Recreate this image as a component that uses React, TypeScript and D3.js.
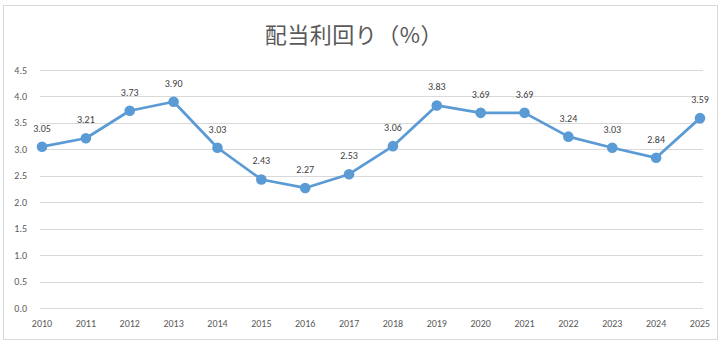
import React from "react";
import * as d3 from "d3";

const years = ["2010","2011","2012","2013","2014","2015","2016","2017","2018","2019","2020","2021","2022","2023","2024","2025"];
const yieldValues = [3.05, 3.21, 3.73, 3.90, 3.03, 2.43, 2.27, 2.53, 3.06, 3.83, 3.69, 3.69, 3.24, 3.03, 2.84, 3.59];
const yTicks = [0, 0.5, 1.0, 1.5, 2.0, 2.5, 3.0, 3.5, 4.0, 4.5];
const title = "配当利回り（%）";

const W = 722, H = 346;
const gridLeft = 40, gridRight = 703;
const font = "Carlito, 'Liberation Sans', 'Noto Sans', sans-serif";

export default function App() {
  const x = d3.scalePoint<string>().domain(years).range([42, 700]);
  const y = d3.scaleLinear().domain([0, 4.5]).range([308, 70]);
  const line = d3.line<number>().x((_, i) => x(years[i])!).y((d) => y(d));
  return (
    <svg width={W} height={H} style={{ position: "absolute", left: 0, top: 0, display: "block" }}>
      <rect x={0} y={0} width={W} height={H} fill="#ffffff" />
      <rect x={3.5} y={5.5} width={714} height={334} fill="#ffffff" stroke="#d9d9d9" strokeWidth={1} />
      <text x={354} y={43} textAnchor="middle" fontSize={22} fill="#595959" fontFamily="'Noto Sans CJK JP', sans-serif" letterSpacing={0.5}>{title}</text>
      {yTicks.map((t) => (
        <g key={t}>
          <line x1={gridLeft} x2={gridRight} y1={Math.round(y(t)) + 0.5} y2={Math.round(y(t)) + 0.5} stroke="#d9d9d9" strokeWidth={1} />
          <text x={27} y={y(t) + 3.5} textAnchor="end" fontSize={10} fill="#595959" fontFamily={font}>{t.toFixed(1)}</text>
        </g>
      ))}
      {years.map((yr) => (
        <text key={yr} x={x(yr)!} y={327} textAnchor="middle" fontSize={10} fill="#595959" fontFamily={font}>{yr}</text>
      ))}
      <path d={line(yieldValues) || ""} fill="none" stroke="#5b9bd5" strokeWidth={2.75} strokeLinejoin="round" />
      {yieldValues.map((v, i) => (
        <circle key={i} cx={x(years[i])!} cy={y(v)} r={5.3} fill="#5b9bd5" />
      ))}
      {yieldValues.map((v, i) => (
        <text key={"l" + i} x={x(years[i])!} y={y(v) - 15} textAnchor="middle" fontSize={10} fill="#404040" fontFamily={font}>{v.toFixed(2)}</text>
      ))}
    </svg>
  );
}
